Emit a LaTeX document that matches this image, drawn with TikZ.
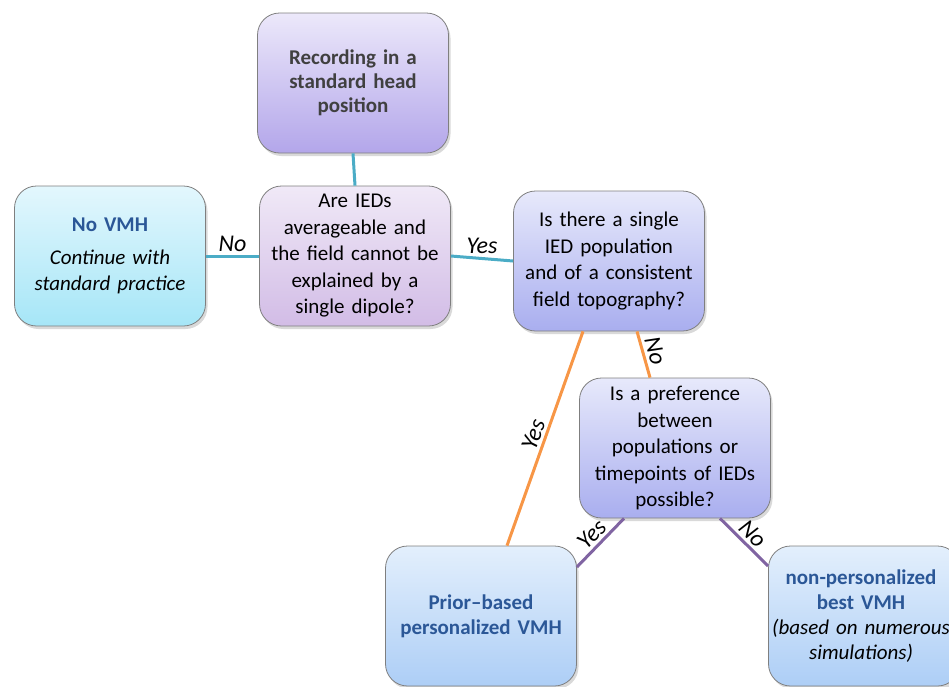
\documentclass[tikz,border=0pt]{standalone}
\usepackage{fontspec}
\setmainfont{Carlito}
\usetikzlibrary{shadows,positioning}

\definecolor{boxgray}{HTML}{7F7F7F}
\definecolor{linkteal}{HTML}{4BACC6}
\definecolor{linkorange}{HTML}{F79646}
\definecolor{linkpurple}{HTML}{8064A2}
\definecolor{headblue}{HTML}{2B5797}
\definecolor{headgray}{HTML}{404040}
\definecolor{lilactop}{HTML}{ECE8FA}
\definecolor{lilacbot}{HTML}{B3A6EA}
\definecolor{mauvetop}{HTML}{F0E9F7}
\definecolor{mauvebot}{HTML}{D2BCE6}
\definecolor{periwinkletop}{HTML}{E7E9FB}
\definecolor{periwinklebot}{HTML}{A9AEEF}
\definecolor{cyantop}{HTML}{E3F7FD}
\definecolor{cyanbot}{HTML}{A6E6F7}
\definecolor{skytop}{HTML}{E3EFFC}
\definecolor{skybot}{HTML}{ADCEF6}

\tikzset{
  box/.style={draw=boxgray, line width=0.8pt, rounded corners=22pt,
    minimum width=191pt, minimum height=140pt, text width=186pt,
    align=center, inner sep=2pt,
    font=\fontsize{21}{26.5}\selectfont,
    drop shadow={opacity=0.3, shadow xshift=2pt, shadow yshift=-3pt}},
  lilacbox/.style={box, top color=lilactop, bottom color=lilacbot},
  mauvebox/.style={box, top color=mauvetop, bottom color=mauvebot},
  periwinklebox/.style={box, top color=periwinkletop, bottom color=periwinklebot},
  cyanbox/.style={box, top color=cyantop, bottom color=cyanbot},
  skybox/.style={box, top color=skytop, bottom color=skybot},
  link/.style={line width=3pt},
  linklabel/.style={font=\fontsize{24}{26}\selectfont\itshape, text=black, inner sep=3pt},
}

\begin{document}
\begin{tikzpicture}[x=1pt, y=-1pt]
\useasboundingbox (0,0) rectangle (949,686);
\clip (0,0) rectangle (949,686);

% boxes
\node[lilacbox, font=\fontsize{21}{24}\selectfont\bfseries, text=headgray] (rec) at (353,83)
  {Recording in a\\ standard head\\ position};
\node[mauvebox] (q1) at (355,256)
  {Are IEDs\\ averageable and\\ the field cannot be\\ explained by a\\ single dipole?};
\node[cyanbox] (novmh) at (110,256)
  {{\bfseries\color{headblue}No VMH}\\[6pt] \itshape Continue with\\ \itshape standard practice};
\node[periwinklebox] (q2) at (609,261)
  {Is there a single\\ IED population\\ and of a consistent\\ field topography?};
\node[periwinklebox] (q3) at (675,448)
  {Is a preference\\ between\\ populations or\\ timepoints of IEDs\\ possible?};
\node[skybox, font=\fontsize{21}{25}\selectfont\bfseries, text=headblue] (prior) at (481,616)
  {Prior--based\\ personalized VMH};
\node[skybox, font=\fontsize{21}{25}\selectfont] (nonpers) at (864,616)
  {\hspace*{-6pt}{\bfseries\color{headblue}non-personalized}\\ \hspace*{-6pt}{\bfseries\color{headblue}best VMH}\\
   \hspace*{-6pt}\itshape (based on numerous\\ \hspace*{-6pt}\itshape simulations)};

% connectors
\draw[link, linkteal] (rec.south) -- (q1.north);
\draw[link, linkteal] (q1.west) -- node[linklabel, midway, above] {No} (novmh.east);
\draw[link, linkteal] (q1.east) -- node[linklabel, midway, above] {Yes} (q2.west);
\draw[link, linkorange] ([xshift=-26pt]q2.south) -- node[linklabel, midway, above, sloped] {Yes} ([xshift=26pt]prior.north);
\draw[link, linkorange] ([xshift=28pt]q2.south) -- node[linklabel, midway, above, sloped] {No} ([xshift=-25pt]q3.north);
\draw[link, linkpurple] ([xshift=-51pt]q3.south) -- node[linklabel, midway, above, sloped] {Yes} ([yshift=49pt]prior.east);
\draw[link, linkpurple] ([xshift=45pt]q3.south) -- node[linklabel, midway, above, sloped] {No} ([yshift=50pt]nonpers.west);
\end{tikzpicture}
\end{document}
